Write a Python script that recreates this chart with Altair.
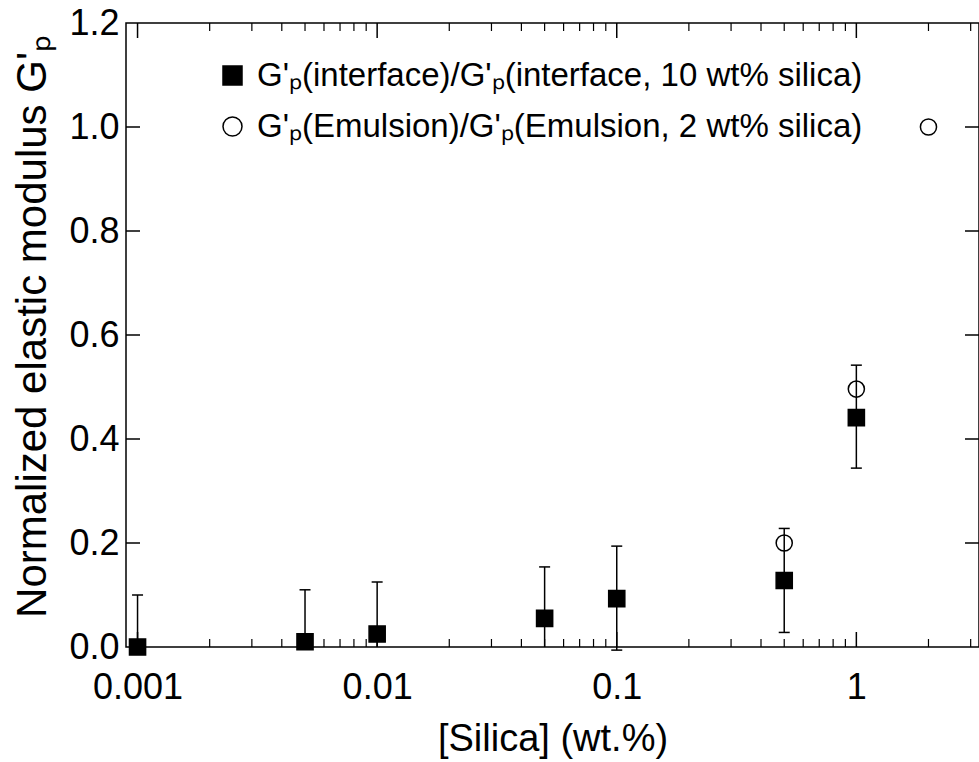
import altair as alt
import pandas as pd

# ---- data ----
silica_iface = [0.001, 0.005, 0.01, 0.05, 0.1, 0.5, 1]
gp_iface = [0.0, 0.01, 0.025, 0.055, 0.093, 0.128, 0.441]
gp_iface_hi = [0.1, 0.11, 0.125, 0.154, 0.194, 0.228, 0.542]
gp_iface_lo = [0.0, 0.0, 0.0, 0.0, -0.006, 0.028, 0.344]
lo_cap_silica = [0.1, 0.5, 1]
lo_cap_gp = [-0.006, 0.028, 0.344]

silica_emul = [0.5, 1, 2]
gp_emul = [0.2, 0.496, 1.0]

lab_iface = "G'\u209a(interface)/G'\u209a(interface, 10 wt% silica)"
lab_emul = "G'\u209a(Emulsion)/G'\u209a(Emulsion, 2 wt% silica)"

x_major = [0.001, 0.01, 0.1, 1]
x_minor = [0.002, 0.003, 0.004, 0.005, 0.006, 0.007, 0.008, 0.009,
           0.02, 0.03, 0.04, 0.05, 0.06, 0.07, 0.08, 0.09,
           0.2, 0.3, 0.4, 0.5, 0.6, 0.7, 0.8, 0.9, 2, 3]
y_labels = [0.0, 0.2, 0.4, 0.6, 0.8, 1.0, 1.2]
y_ticks = [0.2, 0.4, 0.6, 0.8, 1.0]

FONT = "Liberation Sans"
W, H = 853, 624

pts = pd.DataFrame({
    "silica": silica_iface + silica_emul,
    "gp": gp_iface + gp_emul,
    "series": [lab_iface] * len(silica_iface) + [lab_emul] * len(silica_emul),
})
err = pd.DataFrame({"silica": silica_iface, "gp": gp_iface_lo, "hi": gp_iface_hi})
hicap = pd.DataFrame({"silica": silica_iface, "gp": gp_iface_hi})
locap = pd.DataFrame({"silica": lo_cap_silica, "gp": lo_cap_gp})
xmaj = pd.DataFrame({"silica": x_major})
xmin = pd.DataFrame({"silica": x_minor})
yt = pd.DataFrame({"gp": y_ticks})

xscale = alt.Scale(type="log", domain=[0.000895, 3.25], nice=False)
yscale = alt.Scale(domain=[0, 1.2], nice=False, zero=False)

xaxis = alt.Axis(
    values=x_major, format="~g", ticks=False, domain=False, grid=False,
    labelFont=FONT, labelFontSize=36, labelColor="black", labelPadding=40,
    labelBaseline="middle", labelFlush=False, labelOverlap=False,
    title="[Silica] (wt.%)", titleFont=FONT, titleFontSize=38,
    titleFontWeight="normal", titleColor="black", titleY=92,
    titleBaseline="middle")
yaxis = alt.Axis(
    values=y_labels, format=".1f", ticks=False, domain=False, grid=False,
    labelFont=FONT, labelFontSize=36, labelColor="black", labelPadding=7,
    labelFlush=False, labelOverlap=False,
    title="Normalized elastic modulus G'\u209a", titleFont=FONT, titleFontSize=42,
    titleFontWeight="normal", titleColor="black", titleX=-94, titleY=303,
    titleAlign="center", titleBaseline="middle")

X = alt.X("silica:Q", scale=xscale, axis=xaxis)
Y = alt.Y("gp:Q", scale=yscale, axis=yaxis)

legend = alt.Legend(
    title=None, orient="none", legendX=90, legendY=36,
    labelFont=FONT, labelFontSize=33, labelColor="black", labelLimit=2000,
    symbolSize=361, symbolStrokeColor="black", symbolStrokeWidth=1.5,
    rowPadding=17, labelOffset=8,
)
dom = [lab_iface, lab_emul]

points = alt.Chart(pts).mark_point(size=260, strokeWidth=1.5, opacity=1).encode(
    x=X, y=Y,
    shape=alt.Shape("series:N", scale=alt.Scale(domain=dom, range=["square", "circle"]), legend=legend),
    fill=alt.Fill("series:N", scale=alt.Scale(domain=dom, range=["black", "transparent"]), legend=legend),
    stroke=alt.Stroke("series:N", scale=alt.Scale(domain=dom, range=["black", "black"]), legend=legend),
)

bars = alt.Chart(err).mark_rule(color="black", strokeWidth=1.5).encode(x=X, y=Y, y2="hi:Q")
hicaps = alt.Chart(hicap).mark_tick(orient="horizontal", size=11, thickness=1.5, color="black", opacity=1).encode(x=X, y=Y)
locaps = alt.Chart(locap).mark_tick(orient="horizontal", size=11, thickness=1.5, color="black", opacity=1).encode(x=X, y=Y)

def xticks(df, y0, y1, w):
    return alt.Chart(df).mark_rule(color="black", strokeWidth=w).encode(
        x=X, y=alt.value(y0), y2=alt.value(y1))

def yticks(x0, x1):
    return alt.Chart(yt).mark_rule(color="black", strokeWidth=1.5).encode(
        y=Y, x=alt.value(x0), x2=alt.value(x1))

chart = alt.layer(
    xticks(xmaj, H, H - 15, 1.5), xticks(xmin, H, H - 8, 1.2),
    xticks(xmaj, 0, 15, 1.5), xticks(xmin, 0, 8, 1.2),
    yticks(0, 14), yticks(W - 14, W),
    bars, hicaps, locaps, points,
).properties(
    width=W, height=H,
    autosize=alt.AutoSizeParams(type="none"),
    padding={"left": 126, "top": 23, "right": 0, "bottom": 115},
    background="white",
).configure_view(stroke="black", strokeWidth=1.5).configure_axis(grid=False)

chart.save("out.html", embed_options={"renderer": "svg", "actions": False})
